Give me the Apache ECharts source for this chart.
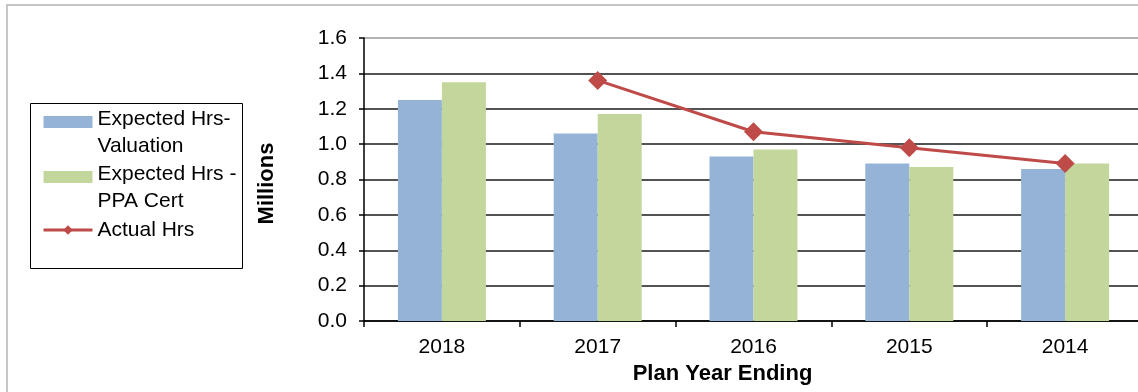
<!DOCTYPE html>
<html>
<head>
<meta charset="utf-8">
<script src="https://cdn.jsdelivr.net/npm/echarts@6/dist/echarts.min.js"></script>
<style>
  html, body { margin: 0; padding: 0; background: #fff; }
  #chart { width: 1138px; height: 392px; }
</style>
</head>
<body>
<div id="chart"></div>
<script>
// Plan years, most recent first
const years = ['2018', '2017', '2016', '2015', '2014'];

// Hours in millions
const expectedValuation = [1.25, 1.06, 0.93, 0.89, 0.86];
const expectedPpaCert = [1.35, 1.17, 0.97, 0.87, 0.89];
const actualHrs = ['-', 1.36, 1.07, 0.98, 0.89];

const seriesNames = ['Expected Hrs-Valuation', 'Expected Hrs - PPA Cert', 'Actual Hrs'];
// legend wording, one entry per line
const legendLines = [['Expected Hrs-', 'Valuation'], ['Expected Hrs -', 'PPA Cert'], ['Actual Hrs']];

const yTicks = ['0.0', '0.2', '0.4', '0.6', '0.8', '1.0', '1.2', '1.4', '1.6'];

const FONT = '"Liberation Sans", Arial, sans-serif';

const chart = echarts.init(document.getElementById('chart'), null, { renderer: 'canvas' });

// top gridline is lighter than the rest
const gridColors = yTicks.map((t, i) => (i === yTicks.length - 1 ? '#9a9a9a' : '#1a1a1a'));

// Legend text: two-line entries get a spacer line above so the first line sits by the swatch;
// the single-line entry gets spacers on both sides so it stays centred.
function legendText(name) {
  const lines = legendLines[seriesNames.indexOf(name)];
  const body = lines.map(l => '{t|' + l + '}').join('\n');
  return lines.length > 1 ? '{g1| }\n' + body : '{g2| }\n' + body + '\n{g2| }';
}

chart.setOption({
  animation: false,
  backgroundColor: '#ffffff',
  graphic: [
    // outer chart frame
    { type: 'line', shape: { x1: 6, y1: 5, x2: 1138, y2: 5 }, style: { stroke: '#c6c6c6', lineWidth: 2 }, silent: true },
    { type: 'line', shape: { x1: 7, y1: 5, x2: 7, y2: 392 }, style: { stroke: '#c6c6c6', lineWidth: 2 }, silent: true },
    // legend frame
    { type: 'rect', shape: { x: 30.5, y: 103.5, width: 212, height: 165 }, style: { fill: 'none', stroke: '#000', lineWidth: 1 }, silent: true, z: 0 }
  ],
  legend: {
    orient: 'vertical',
    left: 42,
    top: 84.5,
    padding: 0,
    itemWidth: 49,
    itemHeight: 12,
    itemGap: -20,
    textStyle: {
      fontFamily: FONT, fontSize: 21, color: '#000', lineHeight: 27,
      rich: {
        t: { fontFamily: FONT, fontSize: 21, color: '#000', lineHeight: 27 },
        g1: { fontSize: 10, lineHeight: 21 },
        g2: { fontSize: 10, lineHeight: 22 }
      }
    },
    formatter: legendText,
    data: [
      { name: seriesNames[0], icon: 'rect' },
      { name: seriesNames[1], icon: 'rect' },
      { name: seriesNames[2], lineStyle: { color: '#BE4B48', width: 3 } }
    ]
  },
  grid: {
    left: 364,
    right: -5,
    top: 38,
    bottom: 71,
    containLabel: false,
    outerBoundsMode: 'none'
  },
  xAxis: {
    type: 'category',
    data: years,
    name: 'Plan Year Ending',
    nameLocation: 'middle',
    nameGap: 39,
    nameTextStyle: { fontFamily: FONT, fontSize: 22, fontWeight: 'bold', color: '#000', padding: [0, 62, 0, 0] },
    axisLine: { lineStyle: { color: '#000', width: 1.5 } },
    axisTick: { show: true, length: 6, lineStyle: { color: '#000', width: 1.5 } },
    axisLabel: { fontFamily: FONT, fontSize: 21, color: '#000', margin: 16 },
    splitLine: { show: false }
  },
  yAxis: {
    type: 'value',
    min: 0,
    max: 1.6,
    interval: 0.2,
    name: 'Millions',
    nameLocation: 'middle',
    nameGap: 86,
    nameTextStyle: { fontFamily: FONT, fontSize: 22, fontWeight: 'bold', color: '#000', padding: [0, 8, 0, 0] },
    axisLine: { show: true, lineStyle: { color: '#000', width: 1.5 } },
    axisTick: { show: true, length: 5, lineStyle: { color: '#000', width: 1.5 } },
    axisLabel: {
      fontFamily: FONT, fontSize: 21, color: '#000', margin: 17,
      formatter: v => yTicks[Math.round(v / 0.2)]
    },
    splitLine: { show: true, lineStyle: { color: gridColors, width: 1.5 } }
  },
  series: [
    {
      name: seriesNames[0],
      type: 'bar',
      data: expectedValuation,
      barWidth: 44,
      barGap: '0%',
      itemStyle: { color: '#95B3D7' }
    },
    {
      name: seriesNames[1],
      type: 'bar',
      data: expectedPpaCert,
      barWidth: 44,
      barGap: '0%',
      itemStyle: { color: '#C3D69B' }
    },
    {
      name: seriesNames[2],
      type: 'line',
      data: actualHrs,
      symbol: 'diamond',
      symbolSize: 19,
      lineStyle: { color: '#BE4B48', width: 3 },
      itemStyle: { color: '#BE4B48' },
      z: 5
    }
  ]
});
</script>
</body>
</html>
